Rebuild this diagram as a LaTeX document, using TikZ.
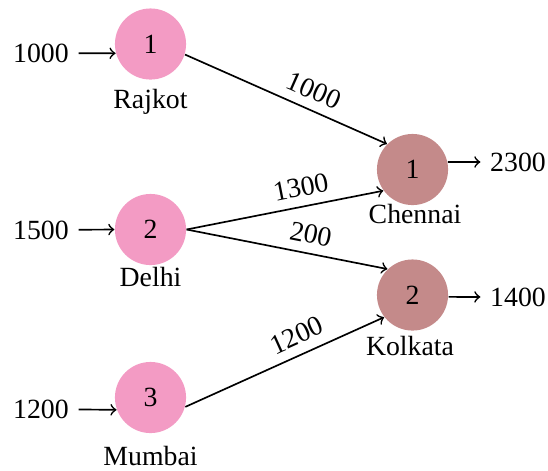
\documentclass[tikz,border=0pt]{standalone}
\usepackage{fontspec}
\setmainfont{Liberation Serif}
\definecolor{srcpink}{HTML}{F39BC4}
\definecolor{dstbrown}{HTML}{C48A8A}
\begin{document}
\begin{tikzpicture}[x=0.36pt,y=-0.36pt,
  font=\fontsize{10}{12}\selectfont,
  city/.style={circle,minimum size=25.6pt,inner sep=0pt},
  src/.style={city,fill=srcpink},
  dst/.style={city,fill=dstbrown},
  cityname/.style={anchor=base},
  flow/.style={->,line width=0.6pt},
  cost/.style={pos=0.6,sloped,above}]
\useasboundingbox (0,0) rectangle (548,470);

% sources
\node[src] (raj) at (150.5,44) {1};
\node[src] (del) at (150.5,229.5) {2};
\node[src] (mum) at (150.5,397.5) {3};
\node[cityname] (rajn) at (150.5,108) {Rajkot};
\node[cityname] (deln) at (150.5,286) {Delhi};
\node[cityname] (mumn) at (150.5,465) {Mumbai};

% destinations
\node[dst] (che) at (412.5,169.5) {1};
\node[dst] (kol) at (412.5,295) {2};
\node[cityname] (chen) at (415,223) {Chennai};
\node[cityname] (koln) at (410,355) {Kolkata};

% supplies and demands
\node (in1) at (41,53) {1000};
\node (in2) at (41,230) {1500};
\node (in3) at (41,409) {1200};
\node (out1) at (518,162) {2300};
\node (out2) at (518,297) {1400};

\draw[flow] (in1) -- (raj.195);
\draw[flow] (in2) -- (del.180);
\draw[flow] (in3) -- (mum.200);
\draw[flow] (che.12) -- (out1);
\draw[flow] (kol.-3) -- (out2);

% shipping routes with unit costs
\draw[flow] (raj.-17.7) -- node[cost] (c1) {1000} (che.135);
\draw[flow] (del.0) -- node[cost] (c2) {1300} (che.216);
\draw[flow] (del.0) -- node[cost] (c3) {200} (kol.134);
\draw[flow] (mum.-15) -- node[cost] (c4) {1200} (kol.218);
\end{tikzpicture}
\end{document}
